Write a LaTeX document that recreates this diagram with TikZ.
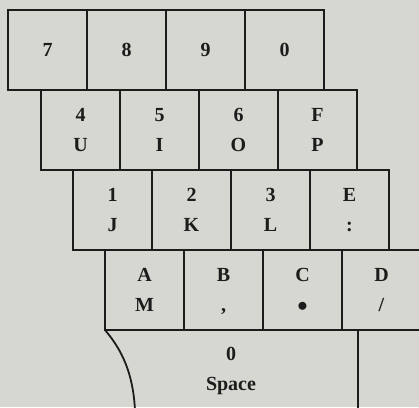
\documentclass[tikz,border=0pt]{standalone}
\usepackage{xcolor}
\usepackage{fontspec}
\setmainfont{Liberation Serif}
\usepackage{tikz}
\usetikzlibrary{positioning}
\definecolor{paper}{HTML}{D7D7D1}
\definecolor{ink}{HTML}{1C1C1C}
\newcommand{\keylabel}[2]{\strut#1\\\strut#2}

\begin{document}
\begin{tikzpicture}[
  x=1pt, y=1pt,
  font=\fontsize{20}{30}\selectfont\bfseries,
  node distance=0pt,
  key/.style={draw=ink, line width=1.8pt, outer sep=0pt, minimum width=79pt, minimum height=80pt, align=center, text=ink, inner sep=0pt},
  edge/.style={draw=ink, line width=1.8pt}
]
  \fill[paper] (0,0) rectangle (419,-407);
  \clip (0,0) rectangle (419,-407);

  % top row
  \node[key, anchor=north west] (k7) at (8,-10) {7};
  \node[key, right=of k7] (k8) {8};
  \node[key, right=of k8] (k9) {9};
  \node[key, right=of k9] (k0) {0};

  % second row
  \node[key, anchor=north west] (k4) at ([xshift=33pt]k7.south west) {\keylabel{4}{U}};
  \node[key, right=of k4] (k5) {\keylabel{5}{I}};
  \node[key, right=of k5] (k6) {\keylabel{6}{O}};
  \node[key, right=of k6] (kF) {\keylabel{F}{P}};

  % third row
  \node[key, anchor=north west] (k1) at ([xshift=32pt]k4.south west) {\keylabel{1}{J}};
  \node[key, right=of k1] (k2) {\keylabel{2}{K}};
  \node[key, right=of k2] (k3) {\keylabel{3}{L}};
  \node[key, right=of k3] (kE) {\keylabel{E}{:}};

  % fourth row
  \node[key, anchor=north west] (kA) at ([xshift=32pt]k1.south west) {\keylabel{A}{M}};
  \node[key, right=of kA] (kB) {\keylabel{B}{,}};
  \node[key, right=of kB] (kC) {\keylabel{C}{$\bullet$}};
  \node[key, right=of kC] (kD) {\keylabel{D}{/}};

  % space bar
  \node[text=ink, align=center] (kspace) at (231,-369) {\keylabel{0}{Space}};
  \coordinate (split) at (358,-330);
  \draw[edge] (kA.south west) .. controls (122,-350) and (133,-373) .. (135,-410);
  \draw[edge] (split) -- (358,-410);
\end{tikzpicture}
\end{document}
